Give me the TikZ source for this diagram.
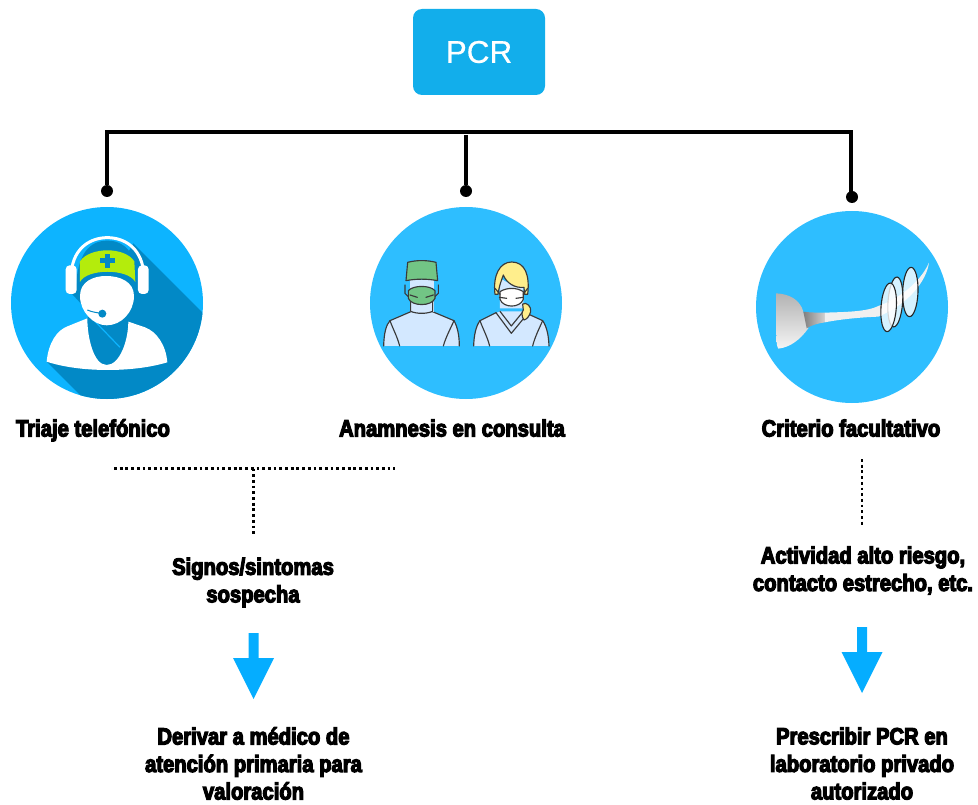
\documentclass[tikz,border=0pt]{standalone}
\usepackage{fontspec}
\setmainfont{Liberation Sans}
\newfontfamily\impactish[FakeStretch=0.86,FakeBold=5]{Liberation Sans Bold}
\newfontfamily\pcrfont[FakeBold=0.5]{Liberation Sans}
\definecolor{boxblue}{HTML}{12AEEB}
\definecolor{circA}{HTML}{0DB4FF}
\definecolor{circB}{HTML}{2EBEFF}
\definecolor{shadowblue}{HTML}{0289C6}
\definecolor{arrowblue}{HTML}{05ADFF}
\definecolor{capgreen}{HTML}{B4EC0C}
\definecolor{scrubgreen}{HTML}{72C585}
\definecolor{gown}{HTML}{D3E8FF}
\definecolor{inkgrey}{HTML}{3A3A3A}
\definecolor{hairyellow}{HTML}{FFEE8C}
\tikzset{
  x=1pt,y=-1pt,
  bar/.style={line width=3.1pt,black},
  dotline/.style={line width=2.8pt,black,dash pattern=on 2.8pt off 2.9pt},
  pin/.style={circle,fill=black,inner sep=0pt,minimum size=12pt},
  lab/.style={font=\impactish\fontsize{23.5}{27.5}\selectfont,align=center,text=black,inner sep=0pt},
  disc/.style={circle,inner sep=0pt,minimum size=192pt},
  fatarrow/.style={fill=arrowblue,draw=none},
  ink/.style={draw=inkgrey,line width=1.15pt,line join=round,line cap=round},
}
\begin{document}
\begin{tikzpicture}
\useasboundingbox (0,0) rectangle (978,805);
\node[fill=boxblue,rounded corners=9pt,minimum width=132pt,minimum height=86pt,inner sep=0pt,text=white,font=\pcrfont\fontsize{31.5}{36}\selectfont] (pcr) at (479,52) {PCR};

% junctions
\coordinate (busL) at (107,132);
\coordinate (busM) at (466,132);
\coordinate (busR) at (851,132);
\node[pin] (pinA) at (107,191) {};
\node[pin] (pinB) at (466,191) {};
\node[pin] (pinC) at (852,197) {};
\draw[bar] ([xshift=-1.55pt]busL) -- ([xshift=1.55pt]busR);
\draw[bar] (busL) -- (pinA);
\draw[bar] ([yshift=-3pt]busM) -- (pinB);
\draw[bar] (busR) -- (busR |- pinC);

% circle 1
\node[disc,fill=circA] (discA) at (107,303) {};
\begin{scope}
\clip (107,303) circle (96);
\begin{scope}[shift={(0,190)},x=0.3333pt,y=-0.3333pt]
\fill[shadowblue] (400,160) -- (640,400) -- (640,680) -- (305,680) -- (140,515) -- (262,385) -- (320,300) -- cycle;
\fill[shadowblue] (205,300) -- (268,368) -- (300,330) -- (240,285) -- cycle;
\fill[white] (140,515) .. controls (145,460) and (170,420) .. (205,408) -- (262,385)
  .. controls (262,440) and (280,525) .. (320,525) .. controls (360,525) and (385,450) .. (385,395)
  -- (435,412) .. controls (470,425) and (498,465) .. (502,517)
  .. controls (400,548) and (240,548) .. (140,515) -- cycle;
\draw[circA,line width=1.2pt] (276,385) -- (360,472);
% headset band
\draw[white,line width=3pt] (214,245) .. controls (222,170) and (275,143) .. (322,143) .. controls (370,143) and (422,170) .. (431,245);
\fill[shadowblue] (228,300) .. controls (230,190) and (270,152) .. (322,152) .. controls (375,152) and (415,190) .. (417,300) -- cycle;
\fill[white,rounded corners=4pt] (197,226) rectangle (230,312);
\fill[white,rounded corners=4pt] (414,226) rectangle (446,312);
\fill[capgreen] (240,276) -- (240,214) .. controls (270,170) and (375,170) .. (403,214) -- (406,276)
  .. controls (385,235) and (260,235) .. (240,276) -- cycle;
\fill[shadowblue] (314,192) rectangle (331,234);
\fill[shadowblue] (300,205) rectangle (345,220);
\fill[white] (318,258) .. controls (280,258) and (240,275) .. (240,318) .. controls (240,365) and (280,406) .. (320,406)
  .. controls (365,406) and (402,365) .. (402,318) .. controls (402,275) and (360,258) .. (318,258) -- cycle;
\draw[shadowblue,line width=1pt] (262,360) .. controls (275,366) and (290,368) .. (305,370);
\fill[shadowblue] (307,371) circle (12);
\end{scope}
\end{scope}

% circle 2
\node[disc,fill=circB] (discB) at (466,303) {};
\begin{scope}[shift={(360,200)},x=0.3333pt,y=-0.3333pt]
% left person
\fill[gown] (71,438) .. controls (72,400) and (78,375) .. (90,362) -- (155,334) -- (215,334) -- (282,362) .. controls (292,380) and (298,405) .. (298,438) -- cycle;
\draw[ink] (71,438) .. controls (72,400) and (78,375) .. (90,362) -- (155,334) -- (215,334) -- (282,362) .. controls (292,380) and (298,405) .. (298,438);
\draw[ink] (90,362) .. controls (98,385) and (112,410) .. (119,438);
\draw[ink] (282,362) .. controls (272,385) and (258,410) .. (250,438);
\fill[gown] (150,240) rectangle (222,335);
\draw[ink] (152,305) -- (152,334) .. controls (170,342) and (200,342) .. (218,334) -- (218,305);
\draw[ink] (135,255) -- (135,280) -- (145,290);
\draw[ink] (235,255) -- (235,280) -- (225,290);
\draw[ink,fill=scrubgreen] (145,272) .. controls (160,255) and (210,255) .. (225,272) -- (225,295)
  .. controls (215,320) and (155,320) .. (145,295) -- cycle;
\draw[ink] (150,285) -- (172,292); \draw[ink] (220,285) -- (198,292);
\draw[ink,fill=scrubgreen] (138,242) -- (143,187) .. controls (170,180) and (200,180) .. (228,187) -- (233,242)
  .. controls (200,236) and (170,236) .. (138,242) -- cycle;
% right person
\fill[gown] (341,438) .. controls (342,405) and (348,378) .. (360,362) -- (420,334) -- (490,334) -- (548,362) .. controls (560,380) and (566,405) .. (567,438) -- cycle;
\draw[ink] (341,438) .. controls (342,405) and (348,378) .. (360,362) -- (408,338);
\draw[ink] (500,340) -- (548,362) .. controls (560,380) and (566,405) .. (567,438);
\draw[ink] (360,362) .. controls (368,385) and (382,410) .. (389,438);
\draw[ink] (548,362) .. controls (538,385) and (525,410) .. (518,438);
\draw[ink] (408,338) -- (454,400) -- (502,342);
\draw[ink] (420,334) -- (454,378) -- (490,334);
\fill[gown] (418,232) .. controls (440,250) and (470,260) .. (490,258) -- (490,325) -- (420,325) -- cycle;
\draw[ink,fill=hairyellow] (405,283) .. controls (398,225) and (420,186) .. (455,186) .. controls (495,186) and (510,225) .. (503,283)
  -- (494,283) -- (492,262) .. controls (465,265) and (440,250) .. (430,225) .. controls (425,240) and (418,255) .. (414,283) -- cycle;
\draw[ink,fill=hairyellow] (488,312) .. controls (500,305) and (515,320) .. (512,335) .. controls (508,350) and (500,358) .. (492,360) .. controls (484,350) and (485,335) .. (490,330) -- cycle;
\draw[ink,fill=white] (420,275) .. controls (440,262) and (470,262) .. (490,275) -- (490,298) .. controls (480,325) and (430,325) .. (420,298) -- cycle;
\draw[ink] (405,265) -- (420,283); \draw[ink] (503,265) -- (490,283);
\draw[ink] (418,292) -- (440,295); \draw[ink] (490,292) -- (468,295);
\end{scope}

% circle 3
\node[disc,fill=circB] (discC) at (852,307) {};
\begin{scope}[shift={(750,200)},x=0.3333pt,y=-0.3333pt]
\shade[top color=black!30,bottom color=black!4] (78,280) .. controls (120,282) and (150,300) .. (160,335) -- (175,385) .. controls (150,420) and (120,442) .. (85,446) .. controls (78,440) and (80,420) .. (78,280) -- cycle;
\shade[left color=black!50,right color=black!18] (160,335) .. controls (180,338) and (205,338) .. (225,338) -- (225,367) .. controls (205,370) and (185,375) .. (170,385) -- cycle;
\fill[black!6] (225,338) .. controls (280,336) and (350,336) .. (385,318) .. controls (440,300) and (510,250) .. (537,188)
  .. controls (530,240) and (480,310) .. (385,350) .. controls (330,352) and (270,358) .. (225,367) -- cycle;
\foreach \ex/\ey/\ea/\eb/\rot in {481/276/23/74/-2,436/306/22/75/-4,416/322/23/73/-4}{
  \fill[white,opacity=.8,rotate around={\rot:(\ex,\ey)}] (\ex,\ey) ellipse [x radius=\ea,y radius=\eb];
  \draw[black!85,line width=1.1pt,rotate around={\rot:(\ex,\ey)}] (\ex,\ey) ellipse [x radius=\ea,y radius=\eb];
}
\end{scope}

% labels
\node[lab,anchor=base] (labA) at (93,436.5) {Triaje telefónico};
\node[lab,anchor=base] (labB) at (452,436.5) {Anamnesis en consulta};
\node[lab,anchor=base] (labC) at (851,436.5) {Criterio facultativo};

% dotted
\coordinate (dotL) at (114,468.5);
\coordinate (dotR) at (395,468.5);
\coordinate (dotM) at (253.5,468.5);
\coordinate (dotD) at (253.5,535);
\coordinate (dotT) at (862,459);
\coordinate (dotB) at (862,527);
\draw[dotline] (dotL) -- (dotR);
\draw[dotline] (dotM) -- (dotD);
\draw[dotline] (dotT) -- (dotB);

\node[lab] (sig) at (253,582.5) {Signos/sintomas\\sospecha};
\node[lab] (act) at (863,570.5) {Actividad alto riesgo,\\contacto estrecho, etc.};
\node[lab] (der) at (253.5,763.5) {Derivar a médico de\\atención primaria para\\valoración};
\node[lab] (pre) at (862,763.5) {Prescribir PCR en\\laboratorio privado\\autorizado};

% arrows
\fill[fatarrow] (248.5,633) -- (258.5,633) -- (258.5,658) -- (274,658) -- (253.5,699) -- (233,658) -- (248.5,658) -- cycle;
\fill[fatarrow] (857,627) -- (867,627) -- (867,652) -- (882.5,652) -- (862,693) -- (841.5,652) -- (857,652) -- cycle;
\end{tikzpicture}
\end{document}
